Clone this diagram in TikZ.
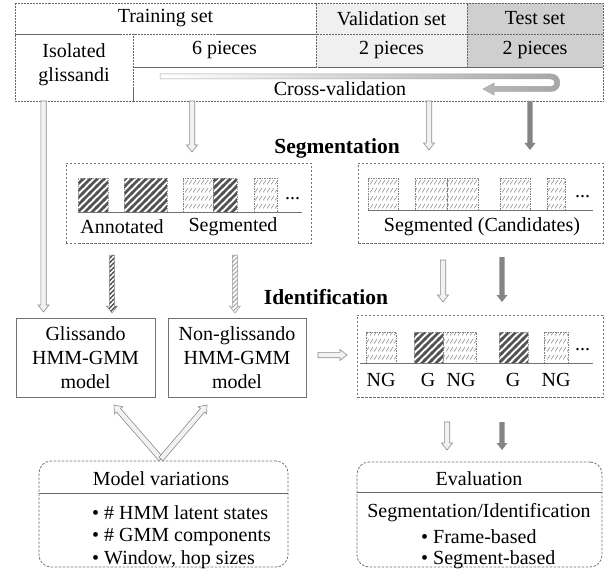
\documentclass[tikz,border=0pt]{standalone}
\usepackage{fontspec}
\setmainfont{Liberation Serif}
\usetikzlibrary{calc,patterns.meta}

\tikzdeclarepattern{name=rowhatch, type=uncolored,
  bottom left={(0pt,0pt)}, top right={(3.5pt,8pt)}, tile size={(3.5pt,8pt)},
  code={\draw[line width=0.6pt] (0pt,1.5pt) -- (3.5pt,6pt);}}

\tikzdeclarepattern{name=thickhatch, type=uncolored,
  bottom left={(0pt,0pt)}, top right={(7pt,7pt)}, tile size={(7pt,7pt)},
  code={\fill (0pt,0pt) -- (2pt,0pt) -- (7pt,5pt) -- (7pt,7pt) -- (5pt,7pt) -- (0pt,2pt) -- cycle;
        \fill (5pt,0pt) -- (7pt,0pt) -- (7pt,2pt) -- cycle;
        \fill (0pt,5pt) -- (2pt,7pt) -- (0pt,7pt) -- cycle;}}

\newcommand\blockarrow[3][]{%
  \path[#1]
    ($(#2)!2.7bp!90:(#3)$)
    -- ($($(#3)!7bp!(#2)$)!2.7bp!90:(#3)$)
    -- ($($(#3)!7bp!(#2)$)!5.5bp!90:(#3)$)
    -- (#3)
    -- ($($(#3)!7bp!(#2)$)!5.5bp!-90:(#3)$)
    -- ($($(#3)!7bp!(#2)$)!2.7bp!-90:(#3)$)
    -- ($(#2)!2.7bp!-90:(#3)$)
    -- cycle;}

\tikzset{
  txt/.style={font=\fontsize{20bp}{24bp}\selectfont, inner sep=0pt},
  headtxt/.style={font=\fontsize{21.5bp}{26bp}\selectfont\bfseries, inner sep=0pt},
  cell/.style={draw=black!60, line width=0.5bp, densely dotted, txt},
  dbox/.style={draw=black!55, line width=0.8bp, dash pattern=on 2.5bp off 1.5bp, inner sep=0pt},
  sbox/.style={draw=black!55, line width=0.8bp, txt, align=center},
  hollowarr/.style={draw=black!45, fill=black!5, line width=0.6bp},
  darkarr/.style={fill=black!48},
  stripedark/.style={draw=black!50, line width=0.5bp, pattern={Lines[angle=45,distance=3.2bp,line width=1.4bp]}, pattern color=black!70},
  stripelight/.style={draw=black!40, line width=0.5bp, pattern={Lines[angle=45,distance=3.2bp,line width=1.1bp]}, pattern color=black!35},
  gblock/.style={pattern=thickhatch, pattern color=black!68, draw=black!40, line width=0.4bp, dash pattern=on 1.5bp off 1bp},
  ngblock/.style={pattern=rowhatch, pattern color=black!45, draw=black!50, line width=0.5bp, dash pattern=on 1.5bp off 1bp},
  baseln/.style={draw=black!55, line width=1bp}
}

\begin{document}
\begin{tikzpicture}[x=1bp,y=-1bp]
\useasboundingbox (0,0) rectangle (616,576);
\fill[white] (0,0) rectangle (616,576);

% ---------- table ----------
\node[cell, minimum width=301bp, minimum height=31bp] (train) at (165.5,18.5) {Training set};
\node[cell, fill=black!6, minimum width=151bp, minimum height=31bp] (valid) at (391.5,18.5) {Validation set};
\node[cell, fill=black!19, minimum width=136bp, minimum height=31bp] (test) at (535,18.5) {Test set};
\node[cell, minimum width=118bp, minimum height=67bp] (iso) at (74,67.5) {};
\node[txt, align=center] (isot) at (74,64.5) {Isolated\\glissandi};
\node[cell, minimum width=183bp, minimum height=33bp] (six) at (224.5,50.5) {6 pieces};
\node[cell, fill=black!6, minimum width=151bp, minimum height=33bp] (val2) at (391.5,50.5) {2 pieces};
\node[cell, fill=black!19, minimum width=136bp, minimum height=33bp] (test2) at (535,50.5) {2 pieces};
\node[cell, minimum width=470bp, minimum height=34bp] (cv) at (368,84) {};
\node[txt] (cvt) at (340,89) {Cross-validation};

% cross-validation U-turn arrow
\shadedraw[left color=white, right color=black!35, draw=black!35, line width=0.5bp]
 (160,74) -- (551,74) .. controls (562.7,74) and (562.7,91.5) .. (551,91.5)
 -- (494,91.5) -- (494,95) -- (483,89) -- (494,83) -- (494,86.5) -- (551,86.5)
 .. controls (556,86.5) and (556,79) .. (551,79) -- (160,79) -- cycle;

% ---------- headings ----------
\node[headtxt] (hseg) at (337,148) {Segmentation};
\node[headtxt] (hid) at (326,297) {Identification};

% ---------- segmentation boxes ----------
\node[dbox, minimum width=245bp, minimum height=80bp] (segL) at (188.5,203) {};
\node[dbox, minimum width=245bp, minimum height=80bp] (segR) at (480.5,203) {};

\path[gblock] (78,178) rectangle (108,212);
\path[gblock] (124,178) rectangle (167,212);
\path[ngblock] (183,178) rectangle (213,212);
\path[gblock] (213,178) rectangle (237,212);
\path[ngblock] (254,178) rectangle (277,212);
\node[txt, anchor=base west] (dotsL) at (285,199) {...};
\draw[baseln] (78,212) -- (302,212);
\node[txt] (annot) at (122,227) {Annotated};
\node[txt] (segm) at (233,227) {Segmented};

\path[ngblock] (368,178) rectangle (398,210);
\path[ngblock] (415,178) rectangle (447,210);
\path[ngblock] (447,178) rectangle (478,210);
\path[ngblock] (500,178) rectangle (530,210);
\path[ngblock] (547,178) rectangle (565,210);
\node[txt, anchor=base west] (dotsR) at (575,197) {...};
\draw[baseln] (368,210) -- (593,210);
\node[txt] (cand) at (482,227) {Segmented (Candidates)};

% ---------- models ----------
\node[sbox, minimum width=139bp, minimum height=79bp] (glis) at (85.5,357.5) {Glissando\\HMM-GMM\\model};
\node[sbox, minimum width=138bp, minimum height=79bp] (nglis) at (237,357.5) {Non-glissando\\HMM-GMM\\model};

% ---------- identification box ----------
\node[dbox, minimum width=246bp, minimum height=82bp] (ident) at (480,356) {};
\path[ngblock] (366,332) rectangle (396,363);
\path[gblock] (414,332) rectangle (443,363);
\path[ngblock] (443,332) rectangle (476,363);
\path[gblock] (499,332) rectangle (528,363);
\path[ngblock] (544,332) rectangle (568,363);
\node[txt, anchor=base west] (dotsI) at (575,350) {...};
\draw[baseln] (360,363) -- (593,363);
\node[txt] (l1) at (381,380) {NG};
\node[txt] (l2) at (428,380) {G};
\node[txt] (l3) at (461,380) {NG};
\node[txt] (l4) at (513,380) {G};
\node[txt] (l5) at (556,380) {NG};

% ---------- bottom boxes ----------
\node[dbox, rounded corners=12bp, minimum width=249bp, minimum height=106bp] (mv) at (163.5,514) {};
\draw[black!60, line width=0.7bp] (mv.west |- 0,493) -- (mv.east |- 0,493);
\node[txt] (mvt) at (161,479) {Model variations};
\node[txt, anchor=west] (mv1) at (92,513) {• \# HMM latent states};
\node[txt, anchor=west] (mv2) at (92,537) {• \# GMM components};
\node[txt, anchor=west] (mv3) at (92,560) {• Window, hop sizes};

\node[dbox, rounded corners=12bp, minimum width=245bp, minimum height=105bp] (ev) at (479.5,514.5) {};
\draw[black!60, line width=0.7bp] (ev.west |- 0,492) -- (ev.east |- 0,492);
\node[txt] (evt) at (479,479) {Evaluation};
\node[txt] (ev0) at (479,513) {Segmentation/Identification};
\node[txt, anchor=west] (ev1) at (421,537) {• Frame-based};
\node[txt, anchor=west] (ev2) at (421,560) {• Segment-based};

% ---------- arrows ----------
\coordinate (a1s) at (43.5,101); \coordinate (a1e) at (43.5,312);
\coordinate (a2s) at (192,101);  \coordinate (a2e) at (192,152);
\coordinate (a3s) at (429,101);  \coordinate (a3e) at (429,150);
\coordinate (a4s) at (530,101);  \coordinate (a4e) at (530,150);
\coordinate (a5s) at (112,255);  \coordinate (a5e) at (112,313);
\coordinate (a6s) at (235,255);  \coordinate (a6e) at (235,313);
\coordinate (a7s) at (443,260);  \coordinate (a7e) at (443,302);
\coordinate (a8s) at (502,257);  \coordinate (a8e) at (502,302);
\coordinate (a9s) at (318,355);  \coordinate (a9e) at (347,355);
\coordinate (b1s) at (447,422);  \coordinate (b1e) at (447,450);
\coordinate (b2s) at (502,422);  \coordinate (b2e) at (502,450);
\coordinate (vap) at (161,459);
\coordinate (vl) at (114,405);   \coordinate (vr) at (207,405);

\blockarrow[hollowarr]{a1s}{a1e}
\blockarrow[hollowarr]{a2s}{a2e}
\blockarrow[hollowarr]{a3s}{a3e}
\blockarrow[darkarr]{a4s}{a4e}
\blockarrow[stripedark]{a5s}{a5e}
\blockarrow[stripelight]{a6s}{a6e}
\blockarrow[hollowarr]{a7s}{a7e}
\blockarrow[darkarr]{a8s}{a8e}
\blockarrow[hollowarr]{a9s}{a9e}
\blockarrow[hollowarr]{b1s}{b1e}
\blockarrow[darkarr]{b2s}{b2e}
\blockarrow[hollowarr]{vap}{vl}
\blockarrow[hollowarr]{vap}{vr}
\end{tikzpicture}
\end{document}
